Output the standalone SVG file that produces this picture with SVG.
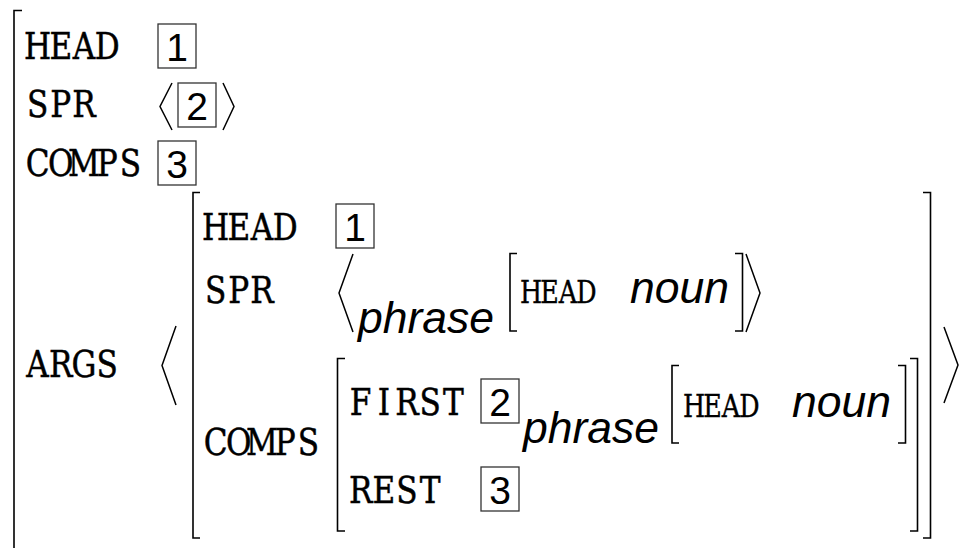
<svg xmlns="http://www.w3.org/2000/svg" width="962" height="548" viewBox="0 0 962 548">
<style>
.tt{font-family:"DejaVu Serif","Liberation Serif",serif;font-size:38px;fill:#000;stroke:#000;stroke-width:0.5;text-anchor:middle}
.tts{font-family:"DejaVu Serif","Liberation Serif",serif;font-size:31px;fill:#000;stroke:#000;stroke-width:0.4;text-anchor:middle}
.it{font-family:"Liberation Sans",Arial,sans-serif;font-style:italic;font-size:44.5px;fill:#000}
.num{font-family:"Liberation Sans",Arial,sans-serif;font-size:39px;fill:#000;text-anchor:middle}
.box{fill:none;stroke:#333;stroke-width:1.3}
.br{fill:none;stroke:#000;stroke-width:1.6}
.ang{fill:none;stroke:#000;stroke-width:1.5}
</style>
<rect width="962" height="548" fill="#fff"/>
<g id="outer">
<path class="br" d="M22,10.5 H14 V548"/>
<g id="outer-head">
<text class="tt" transform="translate(26,59) scale(0.82,1)" x="14.15 42.44 70.73 99.02" y="0">HEAD</text>
<rect class="box" x="158" y="24" width="38" height="44"/><text class="num" x="177" y="60.5">1</text>
</g>
<g id="outer-spr">
<text class="tt" transform="translate(26,117) scale(0.82,1)" x="14.15 42.44 70.73" y="0">SPR</text>
<path class="ang" d="M172,83 L160,106.5 L172,130"/>
<rect class="box" x="178" y="83" width="38" height="44"/><text class="num" x="197" y="119.5">2</text>
<path class="ang" d="M223,83 L234,106.5 L223,130"/>
</g>
<g id="outer-comps">
<text class="tt" transform="translate(26,176) scale(0.82,1)" x="14.15 42.44 70.73 99.02 127.3" y="0">COMPS</text>
<rect class="box" x="158" y="141" width="38" height="44"/><text class="num" x="177" y="177.5">3</text>
</g>
<g id="outer-args">
<text class="tt" transform="translate(26,377) scale(0.82,1)" x="14.15 42.44 70.73 99.02" y="0">ARGS</text>
<path class="ang" d="M176,326 L162,365.5 L176,405"/>
<path class="ang" d="M944,327 L958,365 L944,403"/>
</g>
</g>
<g id="arg">
<path class="br" d="M200,192.5 H193 V538 H200"/>
<path class="br" d="M923,192.5 H930.5 V538 H923"/>
<g id="arg-head">
<text class="tt" transform="translate(204,240) scale(0.82,1)" x="14.15 42.44 70.73 99.02" y="0">HEAD</text>
<rect class="box" x="336" y="204" width="38" height="44"/><text class="num" x="355" y="240.5">1</text>
</g>
<g id="arg-spr">
<text class="tt" transform="translate(204,303) scale(0.82,1)" x="14.15 42.44 70.73" y="0">SPR</text>
<path class="ang" d="M353,254 L339,293 L353,332"/>
<text class="it" x="358" y="333">phrase</text>
<path class="br" d="M517,253.5 H510 V331 H517"/>
<text class="tts" transform="translate(522,303) scale(0.82,1)" x="11.22 33.66 56.1 78.54" y="0">HEAD</text>
<text class="it" x="630" y="303">noun</text>
<path class="br" d="M735,253.5 H742.5 V331 H735"/>
<path class="ang" d="M746,254 L760,293 L746,332"/>
</g>
<g id="arg-comps">
<text class="tt" transform="translate(204,455) scale(0.82,1)" x="14.15 42.44 70.73 99.02 127.3" y="0">COMPS</text>
<path class="br" d="M345,358.5 H337.5 V531 H345"/>
<path class="br" d="M910,358.5 H917.5 V531 H910"/>
<text class="tt" transform="translate(349,415) scale(0.82,1)" x="14.15 42.44 70.73 99.02 127.3" y="0">FIRST</text>
<rect class="box" x="481" y="379" width="38" height="44"/><text class="num" x="500" y="415.5">2</text>
<text class="it" x="523" y="443">phrase</text>
<path class="br" d="M679,365.5 H672 V443 H679"/>
<text class="tts" transform="translate(685,417) scale(0.82,1)" x="11.22 33.66 56.1 78.54" y="0">HEAD</text>
<text class="it" x="792" y="417">noun</text>
<path class="br" d="M898,365.5 H905.5 V443 H898"/>
<text class="tt" transform="translate(349,503) scale(0.82,1)" x="14.15 42.44 70.73 99.02" y="0">REST</text>
<rect class="box" x="481" y="467" width="38" height="44"/><text class="num" x="500" y="503.5">3</text>
</g>
</g>
</svg>
